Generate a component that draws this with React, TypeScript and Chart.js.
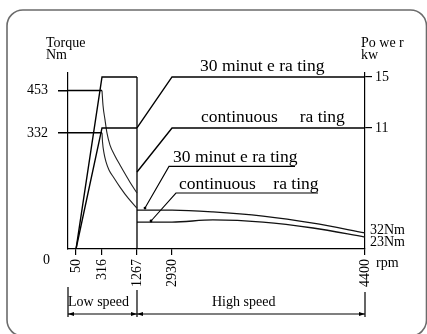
import React, { useEffect, useRef } from 'react';
import { Chart, registerables } from 'chart.js';

Chart.register(...registerables);

// ---------- axis ticks ----------
const rpmTicks = [50, 316, 1267, 2930, 4400];
const torqueTicks = [453, 332];
const powerTicks = [15, 11];

// schematic (non-proportional) placement of rpm breakpoints along the x axis (0..1)
const rpmBreaks = [0, 50, 316, 1267, 2930, 4400];
const rpmBreakPos = [0, 0.027, 0.1145, 0.2323, 0.3502, 1];

// ---------- low speed winding ----------
const lowRpm = [50, 316, 1267];
const lowPower30 = [1.51, 15, 15];
const lowPowerCont = [1.51, 11, 11];
const lowFlatRpm = [0, 316];
const lowTorque30Flat = [453, 453];
const lowTorqueContFlat = [332, 332];
const low30CurveRpm = [316, 343, 398, 452, 533, 669, 805, 1077, 1267];
const low30CurveNm = [453, 411, 369, 331, 297, 266, 240, 191, 160];
const lowContCurveRpm = [316, 330, 370, 425, 506, 642, 805, 1022, 1267];
const lowContCurveNm = [332, 306, 274, 249, 226, 203, 177, 146, 117];

// ---------- high speed winding ----------
const highPowerRpm = [1267, 2930, 4400];
const highPower30 = [11, 15, 15];
const highPowerCont = [7.55, 11, 11];
const highTorqueRpm = [1267, 2930, 3242, 3623, 4004, 4400];
const highTorque30 = [111, 111, 106, 94, 74, 46];
const highTorqueCont = [77, 77, 83, 77, 60, 34];

// winding change-over line
const dividerRpm = [1267, 1267];
const dividerKw = [15, 1.51];

// callouts (tip on curve -> elbow -> end of underline), in rpm / Nm
const callout30 = { tipRpm: 1647, tipNm: 117, elbowRpm: 2787, elbowNm: 236, endRpm: 3867 };
const calloutCont = { tipRpm: 1932, tipNm: 80, elbowRpm: 2960, elbowNm: 160, endRpm: 4042 };

const FONT = '"Liberation Serif", "Times New Roman", serif';

function sx(rpm: number): number {
  for (let i = 1; i < rpmBreaks.length; i++) {
    if (rpm <= rpmBreaks[i]) {
      const t = (rpm - rpmBreaks[i - 1]) / (rpmBreaks[i] - rpmBreaks[i - 1]);
      return rpmBreakPos[i - 1] + t * (rpmBreakPos[i] - rpmBreakPos[i - 1]);
    }
  }
  return 1;
}

const pts = (rs: number[], vs: number[]) => rs.map((r, i) => ({ x: sx(r), y: vs[i] }));

const straight = (data: any, axis: string, width = 1.4, color = '#000') => ({
  type: 'line' as const,
  data,
  yAxisID: axis,
  borderColor: color,
  borderWidth: width,
  pointRadius: 0,
  tension: 0,
  fill: false,
});

const curve = (data: any, axis: string, width = 1.1, color = '#222') => ({
  ...straight(data, axis, width, color),
  cubicInterpolationMode: 'monotone' as const,
});

const decoPlugin = {
  id: 'deco',
  beforeDraw(chart: any) {
    const ctx = chart.ctx;
    ctx.save();
    ctx.fillStyle = '#fff';
    ctx.fillRect(0, 0, chart.width, chart.height);
    ctx.strokeStyle = '#6b6b6b';
    ctx.lineWidth = 1.6;
    ctx.beginPath();
    ctx.roundRect(7, 10, 419.5, 326, 16);
    ctx.stroke();
    ctx.restore();
  },
  afterDraw(chart: any) {
    const { ctx, chartArea: a, scales } = chart;
    const X = (r: number) => scales.x.getPixelForValue(sx(r));
    const Y = (v: number) => scales.y.getPixelForValue(v);
    const P = (v: number) => scales.y1.getPixelForValue(v);
    ctx.save();
    ctx.fillStyle = '#000';
    ctx.strokeStyle = '#000';
    ctx.textBaseline = 'alphabetic';
    ctx.textAlign = 'left';

    // axis titles & small labels
    ctx.font = `14px ${FONT}`;
    ctx.fillText('Torque', 46, 47);
    ctx.fillText('Nm', 46, 59);
    ctx.fillText('Po we r', 361, 47);
    ctx.fillText('kw', 361, 59);
    ctx.fillText('0', 43, 264);
    ctx.fillText('rpm', 376, 267);
    ctx.fillText('32Nm', a.right + 5, Y(highTorque30[highTorque30.length - 1]) + 1);
    ctx.fillText('23Nm', a.right + 5, Y(highTorqueCont[highTorqueCont.length - 1]) + 9);
    ctx.fillText('Low speed', a.left, 306);
    ctx.fillText('High speed', 212, 306);

    // rating labels
    ctx.font = `17.5px ${FONT}`;
    ctx.fillText('30 minut e ra ting', 200, P(15) - 6);
    ctx.fillText('continuous     ra ting', 201, P(11) - 6);
    ctx.fillText('30 minut e ra ting', 173, Y(callout30.elbowNm) - 4);
    ctx.fillText('continuous    ra ting', 179, Y(calloutCont.elbowNm) - 4);

    // callouts
    ctx.lineWidth = 1.1;
    [callout30, calloutCont].forEach((c) => {
      ctx.beginPath();
      ctx.moveTo(X(c.tipRpm), Y(c.tipNm));
      ctx.lineTo(X(c.elbowRpm), Y(c.elbowNm));
      ctx.lineTo(X(c.endRpm), Y(c.elbowNm));
      ctx.stroke();
      ctx.beginPath();
      ctx.arc(X(c.tipRpm), Y(c.tipNm), 1.4, 0, Math.PI * 2);
      ctx.fill();
    });

    // speed range brackets
    const xd = X(1267);
    const yb = a.bottom;
    const yArrow = yb + 65;
    ctx.lineWidth = 1.2;
    ctx.beginPath();
    ctx.moveTo(a.left, yb + 38);
    ctx.lineTo(a.left, yb + 68);
    ctx.moveTo(xd, yb + 41);
    ctx.lineTo(xd, yb + 68);
    ctx.moveTo(a.right, yb + 43);
    ctx.lineTo(a.right, yb + 68);
    ctx.moveTo(a.left, yArrow);
    ctx.lineTo(a.right, yArrow);
    ctx.stroke();
    const arrow = (x: number, dir: number) => {
      ctx.beginPath();
      ctx.moveTo(x, yArrow);
      ctx.lineTo(x - dir * 6, yArrow - 2);
      ctx.lineTo(x - dir * 6, yArrow + 2);
      ctx.closePath();
      ctx.fill();
    };
    arrow(a.left, -1);
    arrow(xd, 1);
    arrow(xd, -1);
    arrow(a.right, 1);
    ctx.restore();
  },
};

const tickFont = { family: FONT, size: 14 };

export default function App() {
  const ref = useRef<HTMLCanvasElement>(null);
  useEffect(() => {
    const chart = new Chart(ref.current as HTMLCanvasElement, {
      type: 'line',
      data: {
        datasets: [
          straight(pts(lowRpm, lowPower30), 'y1'),
          straight(pts(lowRpm, lowPowerCont), 'y1'),
          straight(pts(lowFlatRpm, lowTorque30Flat), 'y', 1.5),
          straight(pts(lowFlatRpm, lowTorqueContFlat), 'y', 1.5),
          curve(pts(low30CurveRpm, low30CurveNm), 'y'),
          curve(pts(lowContCurveRpm, lowContCurveNm), 'y'),
          straight(pts(dividerRpm, dividerKw), 'y1', 1.3),
          straight(pts(highPowerRpm, highPower30), 'y1'),
          straight(pts(highPowerRpm, highPowerCont), 'y1'),
          curve(pts(highTorqueRpm, highTorque30), 'y', 1.3, '#111'),
          curve(pts(highTorqueRpm, highTorqueCont), 'y', 1.3, '#111'),
        ] as any,
      },
      options: {
        responsive: false,
        animation: false,
        devicePixelRatio: 1,
        layout: { padding: { top: 73, left: 0, right: 0, bottom: 0 } },
        plugins: { legend: { display: false }, tooltip: { enabled: false } },
        scales: {
          x: {
            type: 'linear',
            min: 0,
            max: 1,
            position: 'bottom',
            afterFit: (s: any) => { s.height = 85; },
            afterBuildTicks: (s: any) => { s.ticks = rpmTicks.map((r) => ({ value: sx(r) })); },
            ticks: {
              autoSkip: false,
              minRotation: 90,
              maxRotation: 90,
              padding: 4,
              color: '#000',
              font: tickFont,
              callback: (_v: any, i: number) => String(rpmTicks[i]),
            },
            grid: { drawOnChartArea: false, drawTicks: true, tickLength: 6, color: '#000', lineWidth: 1.2 },
            border: { display: true, color: '#000', width: 1.2 },
          },
          y: {
            type: 'linear',
            min: 0,
            max: 503,
            position: 'left',
            afterFit: (s: any) => { s.width = 68; },
            afterBuildTicks: (s: any) => { s.ticks = torqueTicks.map((v) => ({ value: v })); },
            ticks: { padding: 10, color: '#000', font: tickFont, callback: (v: any) => String(v) },
            grid: { drawOnChartArea: false, drawTicks: true, tickLength: 10, color: '#000', lineWidth: 1.5 },
            border: { display: true, color: '#000', width: 1.2 },
          },
          y1: {
            type: 'linear',
            min: 1.51,
            max: 15.31,
            position: 'right',
            afterFit: (s: any) => { s.width = 62; },
            afterBuildTicks: (s: any) => { s.ticks = powerTicks.map((v) => ({ value: v })); },
            ticks: { padding: 3, color: '#000', font: tickFont, callback: (v: any) => String(v) },
            grid: { drawOnChartArea: false, drawTicks: true, tickLength: 7, color: '#000', lineWidth: 1.2 },
            border: { display: true, color: '#000', width: 1.2 },
          },
        },
      } as any,
      plugins: [decoPlugin],
    });
    return () => chart.destroy();
  }, []);
  return (
    <div style={{ position: 'fixed', left: 0, top: 0, width: 427, height: 334, background: '#fff' }}>
      <canvas ref={ref} width={427} height={334} style={{ display: 'block' }} />
    </div>
  );
}
